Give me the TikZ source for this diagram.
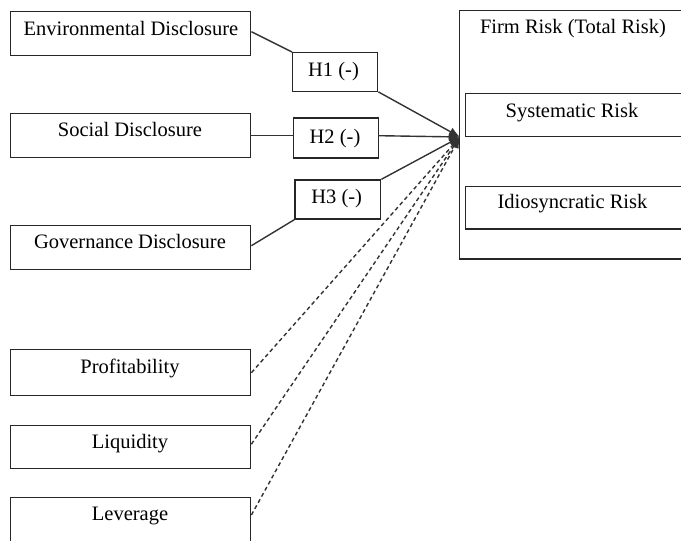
\documentclass[tikz,border=0pt]{standalone}
\usepackage{fontspec}
\setmainfont{Liberation Serif}
\usetikzlibrary{arrows.meta}
\begin{document}
\begin{tikzpicture}[x=1pt,y=-1pt,
  box/.style={draw=black!85, line width=1.4pt, rectangle, inner sep=0pt, anchor=north west, fill=white},
  lbl/.style={anchor=base, inner sep=0pt, font=\fontsize{20.5}{25}\selectfont},
  conn/.style={draw=black!80, line width=1.4pt},
  dconn/.style={conn, dash pattern=on 4pt off 3pt},
  arr/.style={-{Latex[length=11pt,width=9pt]}}]
\useasboundingbox (0,0) rectangle (681,541);
\clip (0,0) rectangle (681,541);
% left boxes
\node[box, minimum width=240pt, minimum height=44pt] (env) at (10,11) {};
\node[box, minimum width=240pt, minimum height=44pt] (soc) at (10,113) {};
\node[box, minimum width=240pt, minimum height=44pt] (gov) at (10,225) {};
\node[box, minimum width=240pt, minimum height=46pt] (prof) at (10,349) {};
\node[box, minimum width=240pt, minimum height=43pt] (liq) at (10,425) {};
\node[box, minimum width=240pt, minimum height=60pt] (lev) at (10,497) {};
% hypothesis boxes
\node[box, minimum width=85pt, minimum height=38.5pt] (h1) at (292,52) {};
\node[box, minimum width=84.5pt, minimum height=40pt] (h2) at (293,117.3) {};
\node[box, minimum width=85.7pt, minimum height=39pt] (h3) at (294.3,179.3) {};
% firm risk
\node[box, minimum width=260pt, minimum height=248.3pt] (firm) at (459,10) {};
\node[box, minimum width=250pt, minimum height=42.7pt] (sys) at (465,93) {};
\node[box, minimum width=250pt, minimum height=42.6pt] (idio) at (465,185.7) {};
% labels
\node[lbl] (tenv) at (131,35) {Environmental Disclosure};
\node[lbl] (tsoc) at (130,136.7) {Social Disclosure};
\node[lbl] (tgov) at (130,248) {Governance Disclosure};
\node[lbl] (tprof) at (130,373) {Profitability};
\node[lbl] (tliq) at (130,448) {Liquidity};
\node[lbl] (tlev) at (130,520) {Leverage};
\node[lbl] (th1) at (333.5,76) {H1 (-)};
\node[lbl] (th2) at (335,143.5) {H2 (-)};
\node[lbl] (th3) at (336.7,203.3) {H3 (-)};
\node[lbl] (tfirm) at (573,33.3) {Firm Risk (Total Risk)};
\node[lbl] (tsys) at (572,117) {Systematic Risk};
\node[lbl] (tidio) at (572.5,208) {Idiosyncratic Risk};
% connectors
\coordinate (tip) at (460,137);
\draw[conn] ([yshift=2pt]env.east) -- (h1.north west);
\draw[conn, arr] (h1.south east) -- (tip);
\draw[conn] (soc.east) -- (h2.west |- soc.east);
\draw[conn, arr] (h2.east |- soc.east) -- (tip);
\draw[conn] ([yshift=2pt]gov.east) -- (h3.south west);
\draw[conn, arr] (h3.north east) -- (tip);
\draw[dconn, arr] (prof.east) -- (tip);
\draw[dconn, arr] ([yshift=3pt]liq.east) -- (tip);
\draw[dconn, arr] ([yshift=-18pt]lev.north east) -- (tip);
\end{tikzpicture}
\end{document}
